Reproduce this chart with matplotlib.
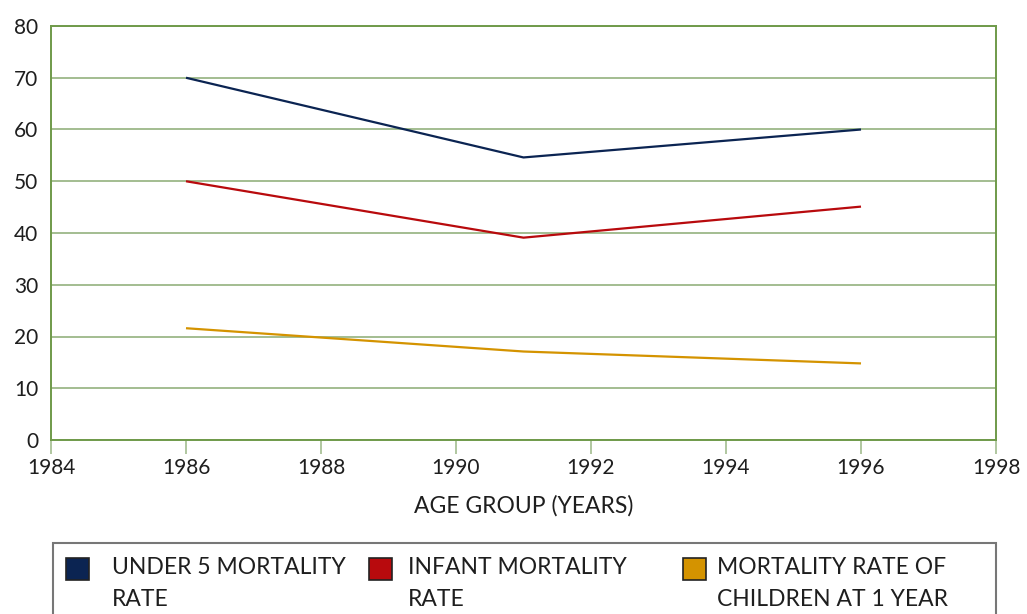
import matplotlib

matplotlib.use("Agg")
import matplotlib.pyplot as plt
from matplotlib.legend_handler import HandlerPatch
from matplotlib.patches import Patch, Rectangle

plt.rcParams["font.family"] = ["Lato", "DejaVu Sans"]

years = [1986, 1991, 1996]
under5 = [70, 54.6, 60]
infant = [50, 39.1, 45.1]
age1 = [21.6, 17.1, 14.8]

series_labels = ["UNDER 5 MORTALITY\nRATE", "INFANT MORTALITY\nRATE", "MORTALITY RATE OF\nCHILDREN AT 1 YEAR"]
series_colors = ["#0b2452", "#b80a0d", "#d49300"]
xticks = list(range(1984, 1999, 2))
yticks = list(range(0, 81, 10))

SPINE = "#6f9a4a"
GRID = "#a3bd90"
TXT = "#1e1e1e"
LEG_FS = 16.5
LEG_LS = 1.65


class TopSquare(HandlerPatch):
    """square handle lifted to sit next to the first of two label lines"""

    def __init__(self, lift, **kw):
        super().__init__(**kw)
        self.lift = lift

    def create_artists(self, legend, orig_handle, xdescent, ydescent, width, height, fontsize, trans):
        p = Rectangle((-xdescent, -ydescent + self.lift), width, height,
                      facecolor=orig_handle.get_facecolor(), edgecolor="#222222", linewidth=1.2)
        p.set_transform(trans)
        return [p]


fig = plt.figure(figsize=(10.27, 6.14), dpi=100)
ax = fig.add_axes([51 / 1027, 1 - 440 / 614, 945 / 1027, 414 / 614])

for vals, c in zip([under5, infant, age1], series_colors):
    ax.plot(years, vals, color=c, linewidth=1.6, solid_capstyle="butt", zorder=3)

ax.set_xlim(1984, 1998)
ax.set_ylim(0, 80)
ax.set_xticks(xticks)
ax.set_yticks(yticks)
ax.grid(axis="y", color=GRID, linewidth=1.4)
ax.set_axisbelow(True)
for s in ax.spines.values():
    s.set_color(SPINE)
    s.set_linewidth(1.4)
ax.tick_params(axis="x", direction="out", length=10, width=1.2, color=GRID, pad=3,
               labelsize=15, labelcolor=TXT)
ax.tick_params(axis="y", length=0, pad=9, labelsize=15, labelcolor=TXT)
ax.set_xlabel("AGE GROUP (YEARS)", fontsize=16.5, color=TXT, labelpad=12)

# legend frame, runs off the bottom edge like the original
fig.add_artist(Rectangle((53 / 1027, -0.2), 943 / 1027, 0.2 + 1 - 543 / 614,
                         transform=fig.transFigure, facecolor="none",
                         edgecolor="#777777", linewidth=1.5))

col_x = [66 / 1027, 369 / 1027, 683 / 1027]
text_pads = [1.0, 0.7, 0.5]
for lab, c, x0, tp in zip(series_labels, series_colors, col_x, text_pads):
    h = Patch(facecolor=c)
    leg = fig.legend([h], [lab], loc="upper left", bbox_to_anchor=(x0, 1 - 557 / 614),
                     frameon=False, fontsize=LEG_FS, handlelength=1.0, handleheight=1.1,
                     handletextpad=tp, borderpad=0, borderaxespad=0,
                     handler_map={Patch: TopSquare(LEG_FS * LEG_LS * 0.40)})
    for t in leg.get_texts():
        t.set_linespacing(LEG_LS)
        t.set_color(TXT)

fig.savefig("out.png", dpi=100)
